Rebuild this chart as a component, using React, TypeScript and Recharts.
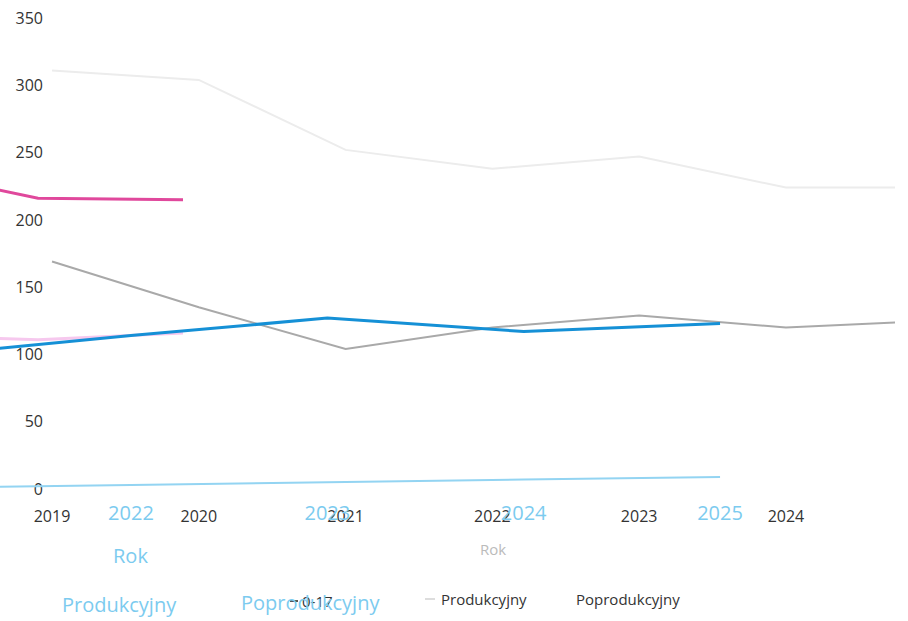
import { LineChart, Line, XAxis, YAxis } from 'recharts';

// black (scanned) chart
const baseYears = [2019, 2020, 2021, 2022, 2023, 2024, 2025];
const produkcyjny = [169, 135, 104, 120, 129, 120, 125];
const zeroSeventeen = [311, 304, 252, 238, 247, 224, 224];
const baseTicks = [2019, 2020, 2021, 2022, 2023, 2024];

// blue overlay chart
const blueYears = [2021, 2022, 2023, 2024, 2025];
const blueProdukcyjny = [100, 114, 127, 117, 123];
const bluePoprodukcyjny = [1, 3, 5, 7, 9];
const blueTicks = [2022, 2023, 2024, 2025];

// pink fragment
const pinkYears = [2018, 2019, 2020];
const pinkA = [239, 216, 215];
const pinkB = [114, 111, 116];

const yTicks = [0, 50, 100, 150, 200, 250, 300, 350];

const baseData = baseYears.map((year, i) => ({ year, prod: produkcyjny[i], young: zeroSeventeen[i] }));
const blueData = blueYears.map((year, i) => ({ year, prod: blueProdukcyjny[i], post: bluePoprodukcyjny[i] }));
const pinkData = pinkYears.map((year, i) => ({ year, a: pinkA[i], b: pinkB[i] }));

const FONT = '"Open Sans", "Noto Sans", sans-serif';
const W = 908;
const H = 621;

const BlackTick = (props: any) => {
  const { x, y, payload } = props;
  return (
    <text x={x} y={y + 25} textAnchor="middle" fill="#333" fontSize={16} fontFamily={FONT}>
      {payload.value}
    </text>
  );
};

const BlueTick = (props: any) => {
  const { x, y, payload } = props;
  return (
    <text x={x} y={y + 23} textAnchor="middle" fill="#7ccbef" fontSize={20} fontFamily={FONT}>
      {payload.value}
    </text>
  );
};

const layer: React.CSSProperties = { position: 'absolute', left: 0, top: 0 };

export default function App() {
  return (
    <div style={{ position: 'relative', width: W, height: H, background: '#fff', fontFamily: FONT }}>
      <style>{'body{margin:0}'}</style>

      <div style={layer}>
        <LineChart width={W} height={H} data={baseData} margin={{ top: 18, right: 13, bottom: 102, left: 0 }}>
          <XAxis
            dataKey="year"
            type="number"
            domain={[2018.959, 2024.743]}
            allowDataOverflow
            ticks={baseTicks}
            tick={<BlackTick />}
            axisLine={false}
            tickLine={false}
            height={30}
          />
          <YAxis
            domain={[0, 350]}
            ticks={yTicks}
            width={46}
            axisLine={false}
            tickLine={false}
            tickSize={0}
            tickMargin={3}
            tick={{ fill: '#333', fontSize: 16, fontFamily: FONT }}
          />
          <Line dataKey="young" stroke="#ececec" strokeWidth={2} dot={false} isAnimationActive={false} />
          <Line dataKey="prod" stroke="#a9a9a9" strokeWidth={2} dot={false} isAnimationActive={false} />
        </LineChart>
      </div>

      <div style={layer}>
        <LineChart width={W} height={H} data={pinkData} margin={{ top: 18, right: 13, bottom: 132, left: 0 }}>
          <XAxis dataKey="year" type="number" domain={[2018.738, 2024.91]} allowDataOverflow hide height={0} />
          <YAxis domain={[0, 350]} hide width={0} />
          <Line dataKey="b" stroke="#f6c8ee" strokeWidth={3} dot={false} isAnimationActive={false} />
          <Line dataKey="a" stroke="#e0489c" strokeWidth={3} dot={false} isAnimationActive={false} />
        </LineChart>
      </div>

      <div style={layer}>
        <LineChart width={W} height={H} data={blueData} margin={{ top: 18, right: 13, bottom: 102, left: 0 }}>
          <XAxis
            dataKey="year"
            type="number"
            domain={[2021.333, 2025.891]}
            allowDataOverflow
            ticks={blueTicks}
            tick={<BlueTick />}
            axisLine={false}
            tickLine={false}
            height={30}
          />
          <YAxis domain={[0, 350]} hide width={0} />
          <Line dataKey="post" stroke="#93d4f2" strokeWidth={2} dot={false} isAnimationActive={false} />
          <Line dataKey="prod" stroke="#1590d6" strokeWidth={3} dot={false} isAnimationActive={false} />
        </LineChart>
      </div>

      <div style={{ position: 'absolute', left: 113, top: 542, fontSize: 20, color: '#7ccbef' }}>Rok</div>
      <div style={{ position: 'absolute', left: 480, top: 539, fontSize: 15, color: '#bbb' }}>Rok</div>

      <div style={{ position: 'absolute', left: 290, top: 591, fontSize: 15, color: '#333', display: 'flex', alignItems: 'center' }}>
        <span style={{ display: 'inline-block', width: 8, height: 2, background: '#555', marginRight: 4 }} />
        0-17
      </div>
      <div style={{ position: 'absolute', left: 425, top: 589, fontSize: 15, color: '#333', display: 'flex', alignItems: 'center' }}>
        <span style={{ display: 'inline-block', width: 10, height: 2, background: '#ddd', marginRight: 6 }} />
        Produkcyjny
      </div>
      <div style={{ position: 'absolute', left: 576, top: 589, fontSize: 15, color: '#333' }}>Poprodukcyjny</div>

      <div style={{ position: 'absolute', left: 62, top: 591, fontSize: 20, color: '#7ccbef' }}>Produkcyjny</div>
      <div style={{ position: 'absolute', left: 241, top: 589, fontSize: 20, color: '#7ccbef' }}>Poprodukcyjny</div>
    </div>
  );
}
